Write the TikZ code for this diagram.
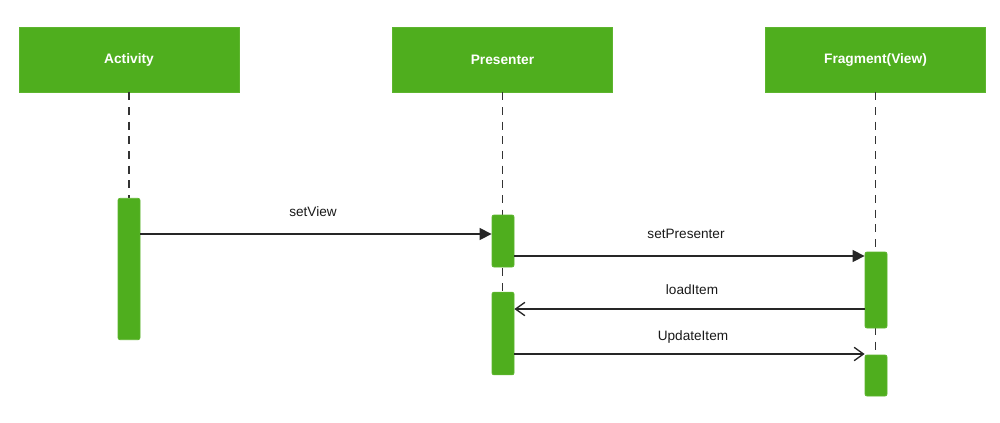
\documentclass[tikz,border=0pt]{standalone}
\usepackage{fontspec}
\setmainfont{Liberation Sans}
\usetikzlibrary{arrows.meta}
\definecolor{grn}{HTML}{4FAE1E}
\definecolor{grnb}{HTML}{5DB52E}
\begin{document}
\begin{tikzpicture}[x=0.75pt,y=-0.75pt,
  header/.style={draw=grnb,fill=grn,line width=0.6pt,minimum width=165pt,minimum height=48.75pt,inner sep=0pt,text=white,font=\fontsize{10.3}{12}\selectfont\bfseries},
  actbar/.style={draw=grnb,fill=grn,line width=0.6pt,rounded corners=1.5pt,minimum width=16.5pt,inner sep=0pt},
  lifeline/.style={draw=black!80,line width=1pt,dash pattern=on 6pt off 5pt},
  msg/.style={draw=black!85,line width=1pt},
  sync/.style={msg,-{Triangle[length=9pt,width=9pt]}},
  ret/.style={msg,-{Straight Barb[length=7pt,width=10pt,line width=1pt]}},
  lbl/.style={font=\fontsize{10.2}{12}\selectfont,text=black!90,inner sep=0pt}]
\useasboundingbox (0,0) rectangle (1000,422);
% headers
\node[header] (act) at (129,59.5) {Activity};
\node[header] (pre) at (502.5,59.5) {Presenter};
\node[header] (fra) at (875.5,59.5) {Fragment(View)};
% coordinates for lifeline ends
\coordinate (actend) at (129,198);
\coordinate (preend) at (502.5,292);
\coordinate (fraend) at (875.5,355);
\draw[lifeline] (act.south) -- (actend);
\draw[lifeline] (pre.south) -- (preend);
\draw[lifeline] (fra.south) -- (fraend);
% activation bars
\node[actbar,minimum height=106pt] (a1) at (129,269) {};
\node[actbar,minimum height=39pt] (p1) at (503,241) {};
\node[actbar,minimum height=62pt] (p2) at (503,333.5) {};
\node[actbar,minimum height=57pt] (f1) at (876,290) {};
\node[actbar,minimum height=30.75pt] (f2) at (876,375.5) {};
% messages
\draw[sync] (a1.east |- 0,234) -- (p1.west |- 0,234);
\node[lbl] (l1) at (313,212) {setView};
\draw[sync] (p1.east |- 0,256) -- (f1.west |- 0,256);
\node[lbl] (l2) at (686,234) {setPresenter};
\draw[ret] (f1.west |- 0,309) -- (p2.east |- 0,309);
\node[lbl] (l3) at (692,290) {loadItem};
\draw[ret] (p2.east |- 0,354) -- (f2.west |- 0,354);
\node[lbl] (l4) at (693,337) {UpdateItem};
\end{tikzpicture}
\end{document}
